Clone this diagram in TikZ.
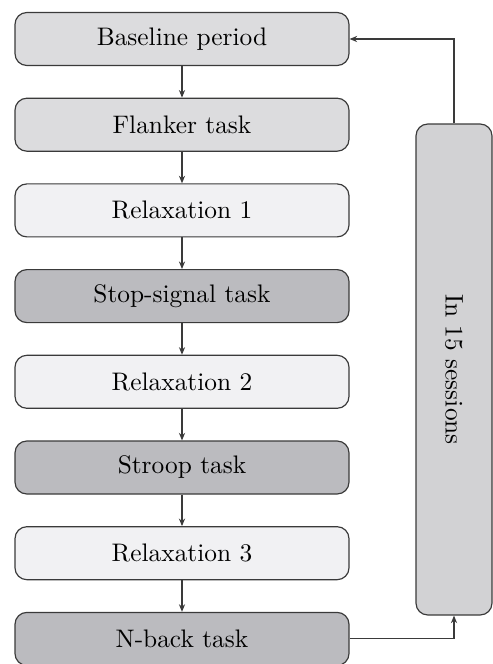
\documentclass[tikz,border=0pt]{standalone}
\usetikzlibrary{arrows.meta}
\definecolor{cA}{HTML}{DCDCDE}
\definecolor{cR}{HTML}{F1F1F3}
\definecolor{cT}{HTML}{BBBBBF}
\definecolor{cS}{HTML}{D2D2D4}
\definecolor{edge}{HTML}{3A3A3A}
\begin{document}
\begin{tikzpicture}[x=0.422pt,y=-0.422pt,
  font=\fontsize{10.7}{13}\selectfont,
  stage/.style={draw=edge,line width=0.5pt,rounded corners=5pt,minimum width=334*0.422pt,minimum height=53*0.422pt,inner sep=0pt},
  conn/.style={draw=edge,line width=0.45pt,-{Stealth[length=3.2pt,width=2.6pt]}}]
\useasboundingbox (0,0) rectangle (492,664);
\node[stage,fill=cA] (b) at (182,39) {Baseline period};
\node[stage,fill=cA] (f) at (182,124.7) {Flanker task};
\node[stage,fill=cR] (r1) at (182,210.4) {Relaxation 1};
\node[stage,fill=cT] (s) at (182,296.1) {Stop-signal task};
\node[stage,fill=cR] (r2) at (182,381.8) {Relaxation 2};
\node[stage,fill=cT] (st) at (182,467.5) {Stroop task};
\node[stage,fill=cR] (r3) at (182,553.2) {Relaxation 3};
\node[stage,fill=cT] (n) at (182,638.9) {N-back task};
\node[draw=edge,line width=0.5pt,rounded corners=5pt,fill=cS,minimum width=76*0.422pt,minimum height=491*0.422pt,inner sep=0pt] (loop) at (454,369.5) {};
\node[rotate=-90] (lt) at (loop.center) {In 15 sessions};
\draw[conn] (b) -- (f);
\draw[conn] (f) -- (r1);
\draw[conn] (r1) -- (s);
\draw[conn] (s) -- (r2);
\draw[conn] (r2) -- (st);
\draw[conn] (st) -- (r3);
\draw[conn] (r3) -- (n);
\draw[conn] (loop.north) |- (b.east);
\draw[conn] (n.east) -| (loop.south);
\end{tikzpicture}
\end{document}
